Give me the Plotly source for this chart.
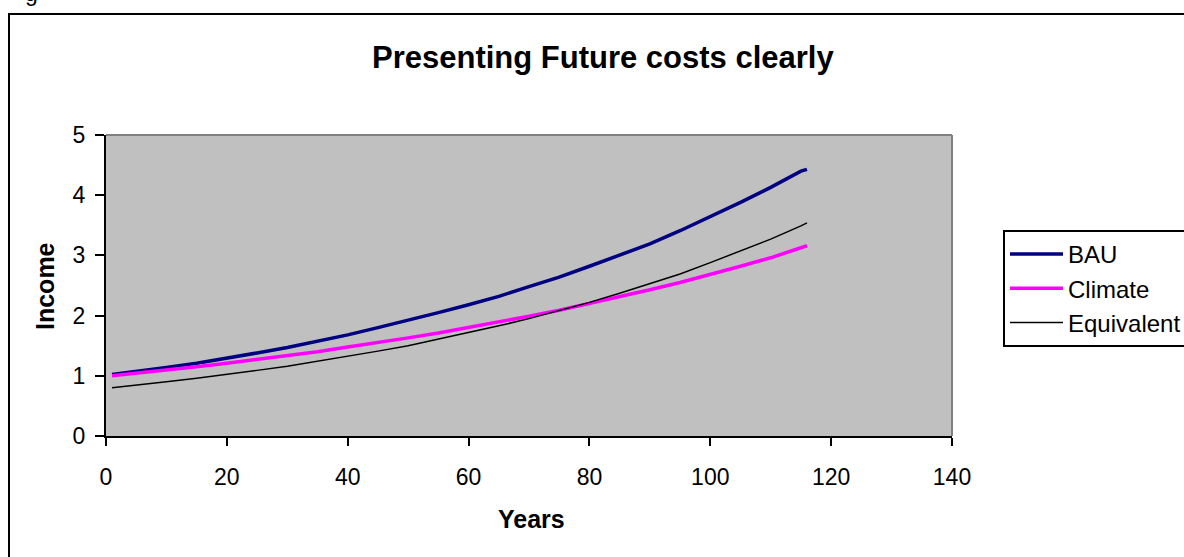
import plotly.graph_objects as go

# Data
years = [1, 5, 10, 15, 20, 25, 30, 35, 40, 45, 50, 55, 60, 65, 70, 75, 80, 85, 90, 95, 100, 105, 110, 115, 116]
bau = [1.02, 1.07, 1.14, 1.21, 1.29, 1.38, 1.47, 1.57, 1.68, 1.80, 1.92, 2.05, 2.18, 2.32, 2.48, 2.64,
       2.82, 3.00, 3.19, 3.41, 3.64, 3.88, 4.13, 4.40, 4.43]
climate = [1.00, 1.04, 1.09, 1.15, 1.21, 1.27, 1.34, 1.40, 1.48, 1.55, 1.63, 1.71, 1.80, 1.89, 1.99, 2.09,
           2.20, 2.31, 2.43, 2.55, 2.68, 2.82, 2.96, 3.12, 3.16]
equivalent = [0.80, 0.84, 0.90, 0.96, 1.02, 1.09, 1.16, 1.24, 1.32, 1.41, 1.50, 1.61, 1.71, 1.83, 1.95, 2.08,
              2.22, 2.37, 2.53, 2.69, 2.88, 3.07, 3.27, 3.49, 3.54]

series_names = ["BAU", "Climate", "Equivalent"]
x_ticks = [0, 20, 40, 60, 80, 100, 120, 140]
y_ticks = [0, 1, 2, 3, 4, 5]

title_text = "Presenting Future costs clearly"
x_title = "Years"
y_title = "Income"

FONT = "Liberation Sans, Arial, sans-serif"

fig = go.Figure()
fig.add_trace(go.Scatter(x=years, y=bau, mode="lines", name=series_names[0],
                         line=dict(color="#000080", width=3.5)))
fig.add_trace(go.Scatter(x=years, y=climate, mode="lines", name=series_names[1],
                         line=dict(color="#FF00FF", width=3.5)))
fig.add_trace(go.Scatter(x=years, y=equivalent, mode="lines", name=series_names[2],
                         line=dict(color="#000000", width=1.5)))

# plot area in pixels: x 106..952, y 135..436
L, R, T, B = 106, 952, 135, 436
W, H = 1184, 557
pw, ph = R - L, B - T


def px(xp):
    return (xp - L) / pw


def py(yp):
    return (B - yp) / ph


fig.update_layout(
    width=W, height=H,
    margin=dict(l=L, r=W - R, t=T, b=H - B, autoexpand=False),
    paper_bgcolor="white",
    plot_bgcolor="#C0C0C0",
    font=dict(family=FONT, size=23, color="black"),
    showlegend=True,
    legend=dict(
        x=px(1003), y=py(230), xanchor="left", yanchor="top",
        bordercolor="black", borderwidth=2, bgcolor="white",
        font=dict(family=FONT, size=24, color="black"),
        itemwidth=53, tracegroupgap=0,
    ),
    xaxis=dict(
        range=[0, 140], tickvals=x_ticks, showgrid=False, zeroline=False,
        showline=True, linecolor="black", linewidth=2,
        ticks="outside", ticklen=8, tickwidth=1.5, tickcolor="black",
        ticklabelstandoff=11,
        tickfont=dict(family=FONT, size=23),
    ),
    yaxis=dict(
        range=[0, 5], tickvals=y_ticks, showgrid=False, zeroline=False,
        showline=True, linecolor="black", linewidth=2,
        ticks="outside", ticklen=9, tickwidth=1.5, tickcolor="black",
        ticklabelstandoff=5,
        tickfont=dict(family=FONT, size=23),
    ),
    shapes=[
        # grey plot-area frame (top and right)
        dict(type="line", xref="paper", yref="paper", x0=0, x1=1, y0=1, y1=1,
             line=dict(color="#808080", width=2), layer="above"),
        dict(type="line", xref="paper", yref="paper", x0=1, x1=1, y0=0, y1=1,
             line=dict(color="#808080", width=2), layer="above"),
        # outer chart border (extends past the right/bottom of the picture)
        dict(type="rect", xref="paper", yref="paper",
             x0=px(9), x1=px(W + 20), y0=py(H + 20), y1=py(14),
             line=dict(color="black", width=2), fillcolor="rgba(0,0,0,0)", layer="below"),
    ],
    annotations=[
        dict(text="<b>%s</b>" % title_text, xref="paper", yref="paper",
             x=px(603), y=py(57), xanchor="center", yanchor="middle", showarrow=False,
             font=dict(family=FONT, size=31, color="black")),
        dict(text="<b>%s</b>" % x_title, xref="paper", yref="paper",
             x=px(531), y=py(519), xanchor="center", yanchor="middle", showarrow=False,
             font=dict(family=FONT, size=25, color="black")),
        dict(text="<b>%s</b>" % y_title, xref="paper", yref="paper",
             x=px(45), y=py(286), xanchor="center", yanchor="middle", showarrow=False,
             textangle=-90, font=dict(family=FONT, size=25, color="black")),
        # cropped descender of surrounding document text at the very top
        dict(text="g", xref="paper", yref="paper",
             x=px(31), y=py(8), xanchor="center", yanchor="bottom", showarrow=False,
             font=dict(family=FONT, size=23, color="black")),
    ],
)

fig.write_html("out.html", config={"displayModeBar": False},
               post_script="document.body.style.margin='0';")
